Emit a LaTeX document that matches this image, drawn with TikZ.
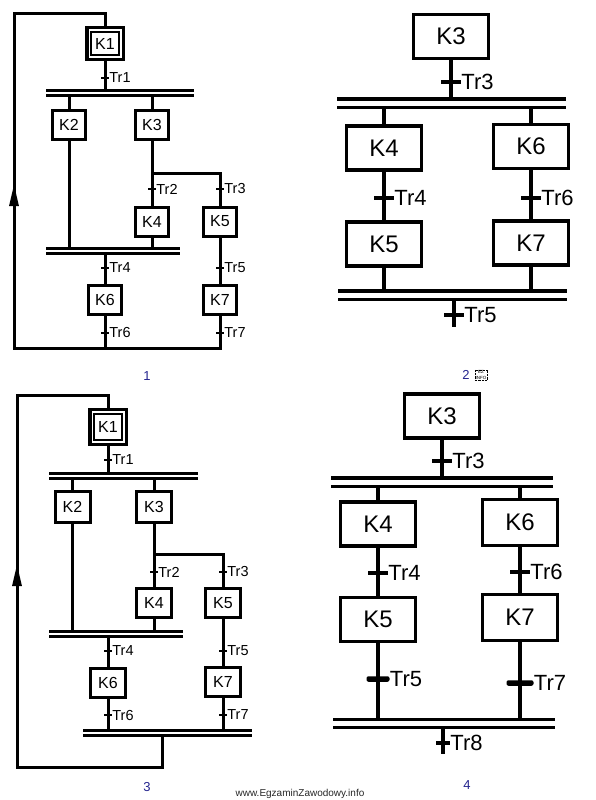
\documentclass[tikz,border=0pt]{standalone}
\usepackage{fontspec}
\setmainfont{Liberation Sans}
\usetikzlibrary{arrows.meta,positioning,calc}
\definecolor{navy}{HTML}{24248E}

\begin{document}
\begin{tikzpicture}[x=1pt, y=-1pt,
  smallstep/.style={draw, line width=3pt, minimum width=33pt, minimum height=29pt,
                    inner sep=0pt, font=\fontsize{16}{16}\selectfont},
  initstep/.style={smallstep, line width=3.5pt, minimum width=36.5pt, minimum height=32pt},
  bigstep/.style={draw, line width=3.5pt, minimum width=75pt, minimum height=44pt,
                  inner sep=0pt, font=\fontsize{24}{24}\selectfont},
  flow/.style={line width=3pt},
  bigflow/.style={line width=3.5pt},
  smalltr/.style={font=\fontsize{14.5}{14.5}\selectfont, inner sep=0pt},
  bigtr/.style={font=\fontsize{22}{22}\selectfont, inner sep=0pt},
  tick/.style={fill, inner sep=0pt, minimum width=8pt, minimum height=2.5pt, label distance=4pt},
  bigtick/.style={fill, inner sep=0pt, minimum width=20pt, minimum height=4pt, label distance=7pt},
  fattick/.style={bigtick, minimum height=5.5pt, rounded corners=2pt},
  smallbar/.style={inner sep=0pt, minimum height=0pt, outer xsep=0pt, outer ysep=4pt,
    append after command={(\tikzlastnode.west) edge[line width=3pt, double, double distance=2pt] (\tikzlastnode.east)}},
  bigbar/.style={inner sep=0pt, minimum height=0pt, outer xsep=0pt, outer ysep=5.8pt,
    append after command={(\tikzlastnode.west) edge[line width=3.3pt, double, double distance=5pt] (\tikzlastnode.east)}},
  loopin/.style={-{Triangle[length=22pt, width=9pt]}},
  numlab/.style={text=navy, font=\fontsize{13}{13}\selectfont}
]
  \useasboundingbox (0,0) rectangle (595,800);

  % Diagram 1
  \node[initstep] (p1k1) at (105,43.5) {K1};
  \draw[line width=1.8pt] ($(p1k1.south west)+(6,-6)$) rectangle ($(p1k1.north east)+(-6,6)$);
  \node[tick, label={[smalltr]right:Tr1}] (p1tr1) at (105,78) {};
  \node[smallbar, minimum width=148pt] (p1bar1) at (120,92.5) {};
  \node[smallstep] (p1k2) at (69,125) {K2};
  \node[smallstep] (p1k3) at (152,125) {K3};
  \coordinate (p1fork) at (152,173);
  \node[tick, label={[smalltr]right:Tr2}] (p1tr2) at (152,189) {};
  \node[tick, label={[smalltr]right:Tr3}] (p1tr3) at (220,189) {};
  \node[smallstep] (p1k4) at (152,221.5) {K4};
  \node[smallstep] (p1k5) at (220,221.5) {K5};
  \node[smallbar, minimum width=134pt] (p1bar2) at (113,251) {};
  \node[tick, label={[smalltr]right:Tr4}] (p1tr4) at (105,268) {};
  \node[tick, label={[smalltr]right:Tr5}] (p1tr5) at (220,268) {};
  \node[smallstep] (p1k6) at (105,300) {K6};
  \node[smallstep] (p1k7) at (220,300) {K7};
  \node[tick, label={[smalltr]right:Tr6}] (p1tr6) at (105,333) {};
  \node[tick, label={[smalltr]right:Tr7}] (p1tr7) at (220,333) {};
  \coordinate (p1back) at (14,348);
  \coordinate (p1top) at (14,14);
  \coordinate (p1arr) at (14,184);

  \draw[flow] (p1k1.south) -- (p1tr1.center) -- (p1tr1 |- p1bar1.north);
  \draw[flow] (p1bar1.south -| p1k2) -- (p1k2.north);
  \draw[flow] (p1bar1.south -| p1k3) -- (p1k3.north);
  \draw[flow] (p1k3.south) -- (p1tr2.center) -- (p1k4.north);
  \draw[flow] (p1fork) -| (p1tr3.center) -- (p1k5.north);
  \draw[flow] (p1k2.south) -- (p1k2.south |- p1bar2.north);
  \draw[flow] (p1k4.south) -- (p1k4.south |- p1bar2.north);
  \draw[flow] (p1bar2.south -| p1tr4) -- (p1tr4.center) -- (p1k6.north);
  \draw[flow] (p1k5.south) -- (p1tr5.center) -- (p1k7.north);
  \draw[flow] (p1k6.south) -- (p1tr6.center) -- (p1tr6 |- p1back);
  \draw[flow] (p1k7.south) -- (p1tr7.center) -- (p1tr7 |- p1back) -- (p1back)
    -- (p1top) -- (p1top -| p1k1) -- (p1k1.north);
  \draw[flow, loopin] (p1back) -- (p1arr);
  \node[numlab] (n1) at (147,376) {1};

  % Diagram 2
  \node[bigstep] (p2k3) at (451,36.5) {K3};
  \node[bigtick, label={[bigtr]right:Tr3}] (p2tr3) at (451,82) {};
  \node[bigbar, minimum width=229pt] (p2bar1) at (451.5,103) {};
  \node[bigstep] (p2k4) at (384,148) {K4};
  \node[bigstep] (p2k6) at (531,146.5) {K6};
  \node[bigtick, label={[bigtr]right:Tr4}] (p2tr4) at (384,198) {};
  \node[bigtick, label={[bigtr]right:Tr6}] (p2tr6) at (531,198) {};
  \node[bigstep] (p2k5) at (384,244) {K5};
  \node[bigstep] (p2k7) at (531,243) {K7};
  \node[bigbar, minimum width=229pt] (p2bar2) at (452.5,295) {};
  \node[bigtick, label={[bigtr]right:Tr5}] (p2tr5) at (454,315) {};
  \coordinate (p2end) at (454,327);

  \draw[bigflow] (p2k3.south) -- (p2tr3.center) -- (p2tr3 |- p2bar1.north);
  \draw[bigflow] (p2bar1.south -| p2k4) -- (p2k4.north);
  \draw[bigflow] (p2bar1.south -| p2k6) -- (p2k6.north);
  \draw[bigflow] (p2k4.south) -- (p2tr4.center) -- (p2k5.north);
  \draw[bigflow] (p2k6.south) -- (p2tr6.center) -- (p2k7.north);
  \draw[bigflow] (p2k5.south) -- (p2k5.south |- p2bar2.north);
  \draw[bigflow] (p2k7.south) -- (p2k7.south |- p2bar2.north);
  \draw[bigflow] (p2bar2.south -| p2tr5) -- (p2end);
  \node[numlab] (n2) at (466,375) {2};
  \node[draw, densely dotted, line width=0.4pt, inner sep=0.8pt, align=center,
        font=\fontsize{4.5}{5.5}\selectfont, right=1.5pt of n2] (ezinfo) {EZ\\INFO};

  % Diagram 3
  \node[initstep, minimum height=35pt] (p3k1) at (108,427) {K1};
  \draw[line width=1.8pt] ($(p3k1.south west)+(6,-6)$) rectangle ($(p3k1.north east)+(-6,6)$);
  \node[tick, label={[smalltr]right:Tr1}] (p3tr1) at (108,460) {};
  \node[smallbar, minimum width=149pt] (p3bar1) at (123.5,475.5) {};
  \node[smallstep, minimum width=35pt, minimum height=31pt] (p3k2) at (72.5,507) {K2};
  \node[smallstep, minimum width=35pt, minimum height=31pt] (p3k3) at (154,507) {K3};
  \coordinate (p3fork) at (154,554);
  \node[tick, label={[smalltr]right:Tr2}] (p3tr2) at (154,572) {};
  \node[tick, label={[smalltr]right:Tr3}] (p3tr3) at (223,572) {};
  \node[smallstep, minimum width=35pt] (p3k4) at (154,603) {K4};
  \node[smallstep, minimum width=35pt] (p3k5) at (223,603) {K5};
  \node[smallbar, minimum width=134pt] (p3bar2) at (116,633.5) {};
  \node[tick, label={[smalltr]right:Tr4}] (p3tr4) at (108,651) {};
  \node[tick, label={[smalltr]right:Tr5}] (p3tr5) at (223,651) {};
  \node[smallstep, minimum width=35pt] (p3k6) at (108,683) {K6};
  \node[smallstep, minimum width=35pt] (p3k7) at (223,682) {K7};
  \node[tick, label={[smalltr]right:Tr6}] (p3tr6) at (108,715) {};
  \node[tick, label={[smalltr]right:Tr7}] (p3tr7) at (223,715) {};
  \node[smallbar, minimum width=169pt] (p3bar3) at (167.5,732.5) {};
  \coordinate (p3drop) at (162,767);
  \coordinate (p3back) at (17,767);
  \coordinate (p3top) at (17,395);
  \coordinate (p3arr) at (17,564);

  \draw[flow] (p3k1.south) -- (p3tr1.center) -- (p3tr1 |- p3bar1.north);
  \draw[flow] (p3bar1.south -| p3k2) -- (p3k2.north);
  \draw[flow] (p3bar1.south -| p3k3) -- (p3k3.north);
  \draw[flow] (p3k3.south) -- (p3tr2.center) -- (p3k4.north);
  \draw[flow] (p3fork) -| (p3tr3.center) -- (p3k5.north);
  \draw[flow] (p3k2.south) -- (p3k2.south |- p3bar2.north);
  \draw[flow] (p3k4.south) -- (p3k4.south |- p3bar2.north);
  \draw[flow] (p3bar2.south -| p3tr4) -- (p3tr4.center) -- (p3k6.north);
  \draw[flow] (p3k5.south) -- (p3tr5.center) -- (p3k7.north);
  \draw[flow] (p3k6.south) -- (p3tr6.center) -- (p3tr6 |- p3bar3.north);
  \draw[flow] (p3k7.south) -- (p3tr7.center) -- (p3tr7 |- p3bar3.north);
  \draw[flow] (p3bar3.south -| p3drop) -- (p3drop) -- (p3back) -- (p3top)
    -- (p3top -| p3k1) -- (p3k1.north);
  \draw[flow, loopin] (p3back) -- (p3arr);
  \node[numlab] (n3) at (147,787) {3};

  % Diagram 4
  \node[bigstep] (p4k3) at (442,416) {K3};
  \node[bigtick, label={[bigtr]right:Tr3}] (p4tr3) at (442,461) {};
  \node[bigbar, minimum width=222pt] (p4bar1) at (442,482) {};
  \node[bigstep] (p4k4) at (378,524) {K4};
  \node[bigstep, minimum height=46pt] (p4k6) at (520,522.5) {K6};
  \node[bigtick, label={[bigtr]right:Tr4}] (p4tr4) at (378,573) {};
  \node[bigtick, label={[bigtr]right:Tr6}] (p4tr6) at (520,572) {};
  \node[bigstep] (p4k5) at (378,619.5) {K5};
  \node[bigstep, minimum height=46pt] (p4k7) at (520,617.5) {K7};
  \node[fattick, minimum width=23pt, label={[bigtr]right:Tr5}] (p4tr5) at (378,679) {};
  \node[fattick, minimum width=27pt, label={[bigtr]right:Tr7}] (p4tr7) at (520,683) {};
  \node[bigbar, minimum width=222pt] (p4bar2) at (444,723.5) {};
  \node[bigtick, minimum width=14pt, minimum height=3.5pt, label={[bigtr]right:Tr8}] (p4tr8) at (443,743) {};
  \coordinate (p4end) at (443,754);

  \draw[bigflow] (p4k3.south) -- (p4tr3.center) -- (p4tr3 |- p4bar1.north);
  \draw[bigflow] (p4bar1.south -| p4k4) -- (p4k4.north);
  \draw[bigflow] (p4bar1.south -| p4k6) -- (p4k6.north);
  \draw[bigflow] (p4k4.south) -- (p4tr4.center) -- (p4k5.north);
  \draw[bigflow] (p4k6.south) -- (p4tr6.center) -- (p4k7.north);
  \draw[bigflow] (p4k5.south) -- (p4tr5.center) -- (p4tr5 |- p4bar2.north);
  \draw[bigflow] (p4k7.south) -- (p4tr7.center) -- (p4tr7 |- p4bar2.north);
  \draw[bigflow] (p4bar2.south -| p4tr8) -- (p4tr8.center) -- (p4end);
  \node[numlab] (n4) at (467,785) {4};

  \node[font=\fontsize{10}{10}\selectfont, text=black!85] (www) at (300,794) {www.EgzaminZawodowy.info};
\end{tikzpicture}
\end{document}
